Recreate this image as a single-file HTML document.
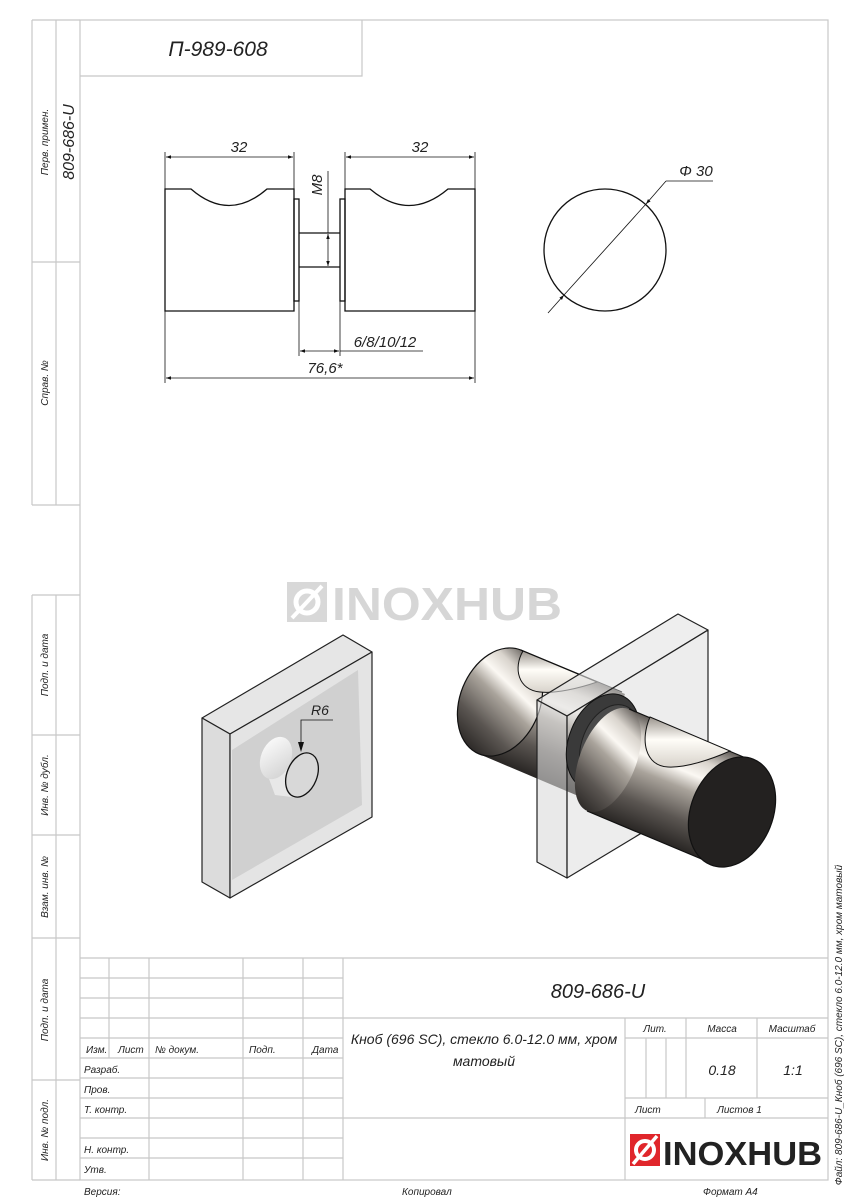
<!DOCTYPE html>
<html><head><meta charset="utf-8"><style>
html,body{margin:0;padding:0;background:#fff}
svg{display:block}
text{font-family:"Liberation Sans",sans-serif;font-style:italic;fill:#222}
text.n{font-style:normal;font-weight:bold}
</style></head><body>
<svg width="848" height="1200" viewBox="0 0 848 1200" xmlns="http://www.w3.org/2000/svg">
<defs>
<linearGradient id="gF" gradientUnits="userSpaceOnUse" x1="629" y1="709" x2="587" y2="811">
<stop offset="0" stop-color="#5e5955"/><stop offset="0.18" stop-color="#d9d4cd"/><stop offset="0.33" stop-color="#fbf8f3"/><stop offset="0.48" stop-color="#a9a39b"/><stop offset="0.75" stop-color="#5b5652"/><stop offset="1" stop-color="#2a2725"/>
</linearGradient>
<linearGradient id="gB" gradientUnits="userSpaceOnUse" x1="521" y1="650" x2="479" y2="754">
<stop offset="0" stop-color="#5e5955"/><stop offset="0.18" stop-color="#d9d4cd"/><stop offset="0.33" stop-color="#fbf8f3"/><stop offset="0.48" stop-color="#a9a39b"/><stop offset="0.75" stop-color="#5b5652"/><stop offset="1" stop-color="#2a2725"/>
</linearGradient>
<linearGradient id="gG" x1="0" y1="0" x2="0" y2="1">
<stop offset="0" stop-color="#9a948d"/><stop offset="0.45" stop-color="#fffdf8"/><stop offset="1" stop-color="#d8d3cb"/>
</linearGradient>
<linearGradient id="gC" x1="0" y1="0" x2="1" y2="1">
<stop offset="0" stop-color="#ffffff"/><stop offset="1" stop-color="#cfcfcf"/>
</linearGradient>
<marker id="ar" viewBox="0 0 10 10" refX="10" refY="5" markerWidth="10" markerHeight="5" orient="auto-start-reverse" markerUnits="userSpaceOnUse"><path d="M0,1.5 L10,5 L0,8.5 z" fill="#111"/></marker>
</defs>

<!-- frame -->
<g fill="none" stroke="#c8c8c8" stroke-width="1.2">
<rect x="80" y="20" width="748" height="1160"/>
<line x1="32" y1="20" x2="80" y2="20"/>
<line x1="32" y1="20" x2="32" y2="505"/><line x1="56" y1="20" x2="56" y2="505"/>
<line x1="32" y1="262" x2="80" y2="262"/><line x1="32" y1="505" x2="80" y2="505"/>
<line x1="32" y1="595" x2="32" y2="1180"/><line x1="56" y1="595" x2="56" y2="1180"/>
<line x1="32" y1="595" x2="80" y2="595"/><line x1="32" y1="735" x2="80" y2="735"/>
<line x1="32" y1="835" x2="80" y2="835"/><line x1="32" y1="938" x2="80" y2="938"/>
<line x1="32" y1="1080" x2="80" y2="1080"/><line x1="32" y1="1180" x2="80" y2="1180"/>
<polyline points="80,76 362,76 362,20"/>
</g>
<text x="218" y="56" font-size="21" text-anchor="middle">П-989-608</text>
<g font-size="10">
<text transform="translate(48,142) rotate(-90)" text-anchor="middle">Перв. примен.</text>
<text transform="translate(48,383) rotate(-90)" text-anchor="middle">Справ. №</text>
<text transform="translate(48,665) rotate(-90)" text-anchor="middle">Подп. и дата</text>
<text transform="translate(48,785) rotate(-90)" text-anchor="middle">Инв. № дубл.</text>
<text transform="translate(48,887) rotate(-90)" text-anchor="middle">Взам. инв. №</text>
<text transform="translate(48,1010) rotate(-90)" text-anchor="middle">Подп. и дата</text>
<text transform="translate(48,1130) rotate(-90)" text-anchor="middle">Инв. № подл.</text>
<text transform="translate(842,1025) rotate(-90)" text-anchor="middle">Файл: 809-686-U_Кноб (696 SC), стекло 6.0-12.0 мм, хром матовый</text>
</g>
<text transform="translate(74,142) rotate(-90)" text-anchor="middle" font-size="16">809-686-U</text>

<!-- top drawing -->
<g fill="none" stroke="#111" stroke-width="1.3">
<path d="M165,189 H191 Q229,222 267,189 H294 V311 H165 Z"/>
<path d="M345,189 H370 Q409,222 448,189 H475 V311 H345 Z"/>
<rect x="294" y="199" width="5" height="102"/>
<rect x="340" y="199" width="5" height="102"/>
<line x1="299" y1="233" x2="340" y2="233"/><line x1="299" y1="267" x2="340" y2="267"/>
</g>
<g fill="none" stroke="#111" stroke-width="0.8">
<line x1="165" y1="152" x2="165" y2="189"/><line x1="294" y1="152" x2="294" y2="199"/>
<line x1="345" y1="152" x2="345" y2="199"/><line x1="475" y1="152" x2="475" y2="189"/>
<line x1="166" y1="157" x2="293" y2="157" marker-start="url(#ar)" marker-end="url(#ar)"/>
<line x1="346" y1="157" x2="474" y2="157" marker-start="url(#ar)" marker-end="url(#ar)"/>
<line x1="328" y1="171" x2="328" y2="233"/>
<line x1="328" y1="234" x2="328" y2="266" marker-start="url(#ar)" marker-end="url(#ar)"/>
<line x1="165" y1="311" x2="165" y2="383"/><line x1="475" y1="311" x2="475" y2="383"/>
<line x1="299" y1="301" x2="299" y2="356"/><line x1="340" y1="301" x2="340" y2="356"/>
<line x1="300" y1="351" x2="339" y2="351" marker-start="url(#ar)" marker-end="url(#ar)"/>
<line x1="340" y1="351" x2="423" y2="351"/>
<line x1="166" y1="378" x2="474" y2="378" marker-start="url(#ar)" marker-end="url(#ar)"/>
</g>
<g font-size="15">
<text x="239" y="152" text-anchor="middle">32</text>
<text x="420" y="152" text-anchor="middle">32</text>
<text transform="translate(322,185) rotate(-90)" text-anchor="middle">M8</text>
<text x="385" y="347" text-anchor="middle">6/8/10/12</text>
<text x="325" y="373" text-anchor="middle">76,6*</text>
<text x="696" y="176" text-anchor="middle">Φ 30</text>
</g>
<circle cx="605" cy="250" r="61" fill="none" stroke="#111" stroke-width="1.3"/>
<g fill="none" stroke="#111" stroke-width="0.8">
<line x1="548" y1="313" x2="564" y2="295" marker-end="url(#ar)"/>
<line x1="564" y1="295" x2="646" y2="204"/>
<line x1="666" y1="181" x2="646" y2="204" marker-end="url(#ar)"/>
<polyline points="666,181 713,181"/>
</g>

<!-- watermark -->
<rect x="287" y="582" width="40" height="40" fill="#d8d8d8"/>
<circle cx="307" cy="602" r="11" fill="none" stroke="#fff" stroke-width="5"/>
<line x1="292" y1="618" x2="322" y2="586" stroke="#fff" stroke-width="4"/>
<text class="n" x="332" y="620" font-size="46" style="fill:#d6d6d6;font-style:normal" textLength="230" lengthAdjust="spacingAndGlyphs">INOXHUB</text>

<!-- left plate -->
<g stroke="#222" stroke-width="1.2" stroke-linejoin="round">
<polygon points="202,718 343,635 372,652 230,734" fill="#e6e6e6"/>
<polygon points="202,718 230,734 230,898 202,882" fill="#dcdcdc"/>
<polygon points="230,734 372,652 372,817 230,898" fill="#e4e4e4"/>
<polygon points="232,750 358,670 362,805 232,880" fill="#d0d0d0" stroke="none"/>
</g>
<path d="M262,760 L287,760 L300,798 L275,795 Z" fill="#e8e8e8"/>
<ellipse cx="276" cy="758" rx="15" ry="22" transform="rotate(22 276 758)" fill="url(#gC)"/>
<ellipse cx="302" cy="775" rx="15" ry="23" transform="rotate(22 302 775)" fill="#d8d8d8" stroke="#111" stroke-width="1.3"/>
<polyline points="333,720 301,720 301,748" fill="none" stroke="#111" stroke-width="0.8"/>
<path d="M298,742 L301,752 L304,742 z" fill="#111"/>
<text x="320" y="715" font-size="14" text-anchor="middle">R6</text>

<!-- right assembly: back knob -->
<path d="M521,650 L625,694 L583,798 L479,754 Z" fill="url(#gB)"/>
<ellipse cx="500" cy="702" rx="40" ry="56" transform="rotate(22 500 702)" fill="url(#gB)" stroke="#111" stroke-width="1.2"/>
<line x1="521" y1="650" x2="622" y2="692" stroke="#111" stroke-width="1.2"/>
<path d="M523,651 L597,682 C580,688 555,694 540,692 C518,690 513,668 523,651 Z" fill="url(#gG)" stroke="#111" stroke-width="1"/>
<!-- glass -->
<g stroke="#222" stroke-width="1.2" stroke-linejoin="round">
<polygon points="537,700 678,614 708,630 567,716" fill="#e2e2e2" fill-opacity="0.6"/>
<polygon points="537,700 567,716 567,878 537,862" fill="#dadada" fill-opacity="0.6"/>
<polygon points="567,716 708,630 708,793 567,878" fill="#d8d8d8" fill-opacity="0.45"/>
</g>
<!-- washer -->
<ellipse cx="603" cy="742" rx="34" ry="50" transform="rotate(22 603 742)" fill="#3a3a3a" stroke="#111"/>
<ellipse cx="610" cy="745" rx="28" ry="42" transform="rotate(22 610 745)" fill="#4a4a4a" stroke="#222"/>
<ellipse cx="606" cy="736" rx="10" ry="16" transform="rotate(22 606 736)" fill="#8d8d8d"/>
<!-- front knob -->
<path d="M629,709 L753,761 L711,863 L587,811 Z" fill="url(#gF)"/>
<ellipse cx="608" cy="760" rx="28" ry="55" transform="rotate(22 608 760)" fill="url(#gF)"/>
<line x1="629" y1="709" x2="753" y2="761" stroke="#111" stroke-width="1.2"/>
<line x1="587" y1="811" x2="711" y2="863" stroke="#111" stroke-width="1.2"/>
<path d="M650,717 L730,751 C712,759 686,768 668,767 C645,766 640,740 650,717 Z" fill="url(#gG)" stroke="#111" stroke-width="1"/>
<ellipse cx="732" cy="812" rx="41" ry="57" transform="rotate(22 732 812)" fill="#232120" stroke="#111" stroke-width="1.2"/>

<!-- title block -->
<g fill="none" stroke="#c8c8c8" stroke-width="1.2">
<line x1="80" y1="958" x2="828" y2="958"/>
<line x1="80" y1="978" x2="343" y2="978"/><line x1="80" y1="998" x2="343" y2="998"/>
<line x1="80" y1="1018" x2="828" y2="1018"/>
<line x1="80" y1="1038" x2="343" y2="1038"/><line x1="625" y1="1038" x2="828" y2="1038"/>
<line x1="80" y1="1058" x2="343" y2="1058"/><line x1="80" y1="1078" x2="343" y2="1078"/>
<line x1="80" y1="1098" x2="343" y2="1098"/><line x1="625" y1="1098" x2="828" y2="1098"/>
<line x1="80" y1="1118" x2="828" y2="1118"/>
<line x1="80" y1="1138" x2="343" y2="1138"/><line x1="80" y1="1158" x2="343" y2="1158"/>
<line x1="109" y1="958" x2="109" y2="1058"/>
<line x1="149" y1="958" x2="149" y2="1180"/>
<line x1="243" y1="958" x2="243" y2="1180"/>
<line x1="303" y1="958" x2="303" y2="1180"/>
<line x1="343" y1="958" x2="343" y2="1180"/>
<line x1="625" y1="1018" x2="625" y2="1180"/>
<line x1="646" y1="1038" x2="646" y2="1098"/><line x1="666" y1="1038" x2="666" y2="1098"/>
<line x1="686" y1="1018" x2="686" y2="1098"/>
<line x1="757" y1="1018" x2="757" y2="1098"/>
<line x1="705" y1="1098" x2="705" y2="1118"/>
</g>
<text x="598" y="998" font-size="20" text-anchor="middle">809-686-U</text>
<g font-size="14" text-anchor="middle">
<text x="484" y="1044">Кноб (696 SC), стекло 6.0-12.0 мм, хром</text>
<text x="484" y="1066">матовый</text>
<text x="722" y="1075">0.18</text>
<text x="793" y="1075">1:1</text>
</g>
<g font-size="10">
<text x="655" y="1032" text-anchor="middle">Лит.</text>
<text x="722" y="1032" text-anchor="middle">Масса</text>
<text x="792" y="1032" text-anchor="middle">Масштаб</text>
<text x="635" y="1113">Лист</text>
<text x="717" y="1113">Листов 1</text>
<text x="86" y="1053">Изм.</text>
<text x="118" y="1053">Лист</text>
<text x="155" y="1053">№ докум.</text>
<text x="249" y="1053">Подп.</text>
<text x="312" y="1053">Дата</text>
<text x="84" y="1073">Разраб.</text>
<text x="84" y="1093">Пров.</text>
<text x="84" y="1113">Т. контр.</text>
<text x="84" y="1153">Н. контр.</text>
<text x="84" y="1173">Утв.</text>
<text x="84" y="1195">Версия:</text>
<text x="402" y="1195">Копировал</text>
<text x="703" y="1195">Формат A4</text>
</g>
<!-- logo -->
<rect x="630" y="1134" width="30" height="32" fill="#e0262b"/>
<circle cx="645" cy="1150" r="9" fill="none" stroke="#fff" stroke-width="4"/>
<line x1="633" y1="1164" x2="657" y2="1136" stroke="#fff" stroke-width="3.5"/>
<text class="n" x="663" y="1165" font-size="33" style="font-style:normal" textLength="159" lengthAdjust="spacingAndGlyphs">INOXHUB</text>
</svg>
</body></html>
